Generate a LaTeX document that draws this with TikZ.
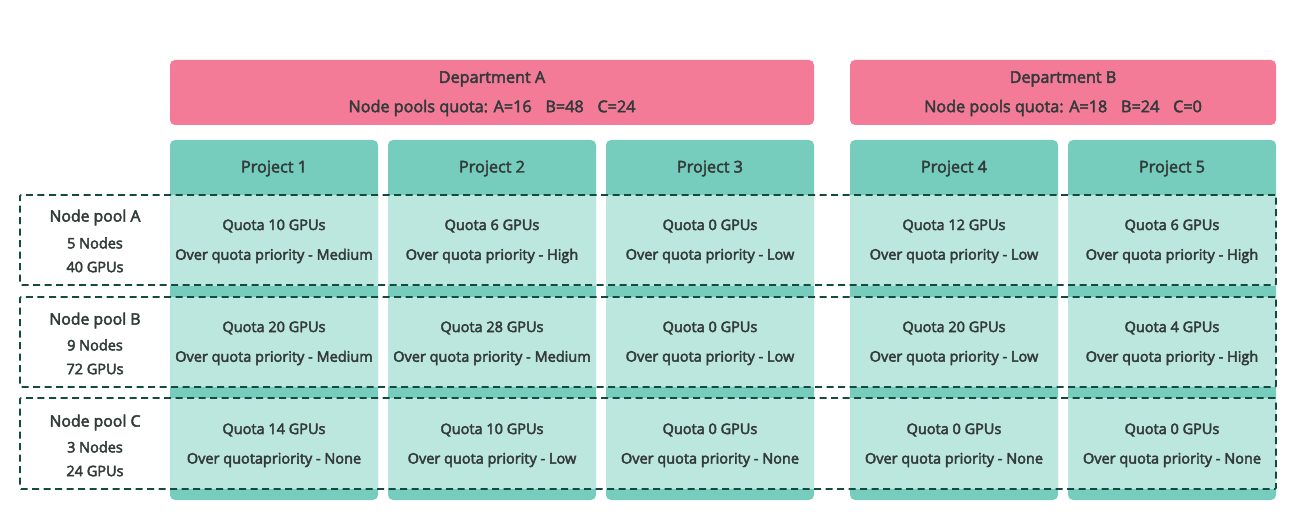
\documentclass[tikz,border=0pt]{standalone}
\usepackage{fontspec}
\setmainfont{Open Sans}
\newcommand{\semib}{\special{pdf:literal direct 2 Tr 0.45 w}}
\begin{document}
\begin{tikzpicture}[x=1pt,y=-1pt,
  dept/.style={fill=pinkc, rounded corners=5pt, minimum height=65pt, inner sep=0pt},
  col/.style={fill=tealdark, rounded corners=5pt, minimum width=208pt, minimum height=360pt, inner sep=0pt},
  cell/.style={fill=teallight, minimum width=208pt, inner sep=0pt},
  pool/.style={draw=pooldash, line width=1.6pt, dash pattern=on 7pt off 4.5pt, rounded corners=1pt, inner sep=0pt, minimum width=1256pt},
  txt/.style={text=txtc, font=\fontsize{14.5}{16}\selectfont\semib, inner sep=0pt},
  big/.style={text=txtc, font=\fontsize{15.8}{18}\selectfont\semib, inner sep=0pt},
  hdr/.style={text=txtc, font=\fontsize{16.2}{18}\selectfont\semib, inner sep=0pt},
]
\definecolor{pinkc}{HTML}{F47B97}
\definecolor{tealdark}{HTML}{76CDBD}
\definecolor{teallight}{HTML}{BCE7DE}
\definecolor{pooldash}{HTML}{154A3E}
\definecolor{txtc}{HTML}{333B3A}
\useasboundingbox (0,0) rectangle (1295,518);

% departments
\node[dept, minimum width=644pt] (dA) at (492,92.5) {};
\node[dept, minimum width=426pt] (dB) at (1063,92.5) {};
\node[hdr] (dAt) at (492,79) {Department A};
\node[hdr] (dAq) at (492,108) {Node pools quota: A=16\hspace{0.85em}B=48\hspace{0.85em}C=24};
\node[hdr] (dBt) at (1063,79) {Department B};
\node[hdr] (dBq) at (1063,108) {Node pools quota: A=18\hspace{0.85em}B=24\hspace{0.85em}C=0};

% columns
\foreach \n/\x in {1/274,2/492,3/710,4/954,5/1172}{
  \node[col] (c\n) at (\x,320) {};
  \node[cell, minimum height=91pt] (ca\n) at (\x,240.5) {};
  \node[cell, minimum height=90pt] (cb\n) at (\x,342) {};
  \node[cell, minimum height=91pt] (cc\n) at (\x,443.5) {};
  \node[hdr] (h\n) at (\x,168.5) {Project \n};
}

% pool boxes
\node[pool, minimum height=90pt] (pA) at (648,240) {};
\node[pool, minimum height=90pt] (pB) at (648,342) {};
\node[pool, minimum height=91pt] (pC) at (648,443.5) {};

% pool labels
\node[big] (lA) at (95,217.5) {Node pool A};
\node[txt] (lA1) at (95,243) {5 Nodes};
\node[txt] (lA2) at (95,267) {40 GPUs};
\node[big] (lB) at (95,320.5) {Node pool B};
\node[txt] (lB1) at (95,345) {9 Nodes};
\node[txt] (lB2) at (95,369) {72 GPUs};
\node[big] (lC) at (95,422.5) {Node pool C};
\node[txt] (lC1) at (95,447) {3 Nodes};
\node[txt] (lC2) at (95,471) {24 GPUs};

% cell texts
\foreach \n/\x/\qa/\pa/\qb/\pb/\qc/\pc in {
  1/274/10/Medium/20/Medium/14/None,
  2/492/6/High/28/Medium/10/Low,
  3/710/0/Low/0/Low/0/None,
  4/954/12/Low/20/Low/0/None,
  5/1172/6/High/4/High/0/None}{
  \node[txt] (qa\n) at (\x,226) {Quota \qa{} GPUs};
  \node[txt] (pa\n) at (\x,256) {Over quota priority - \pa};
  \node[txt] (qb\n) at (\x,328) {Quota \qb{} GPUs};
  \node[txt] (pb\n) at (\x,358) {Over quota priority - \pb};
  \node[txt] (qc\n) at (\x,430) {Quota \qc{} GPUs};
}
\node[txt] (pc1) at (274,460) {Over quotapriority - None};
\node[txt] (pc2) at (492,460) {Over quota priority - Low};
\node[txt] (pc3) at (710,460) {Over quota priority - None};
\node[txt] (pc4) at (954,460) {Over quota priority - None};
\node[txt] (pc5) at (1172,460) {Over quota priority - None};
\end{tikzpicture}
\end{document}
